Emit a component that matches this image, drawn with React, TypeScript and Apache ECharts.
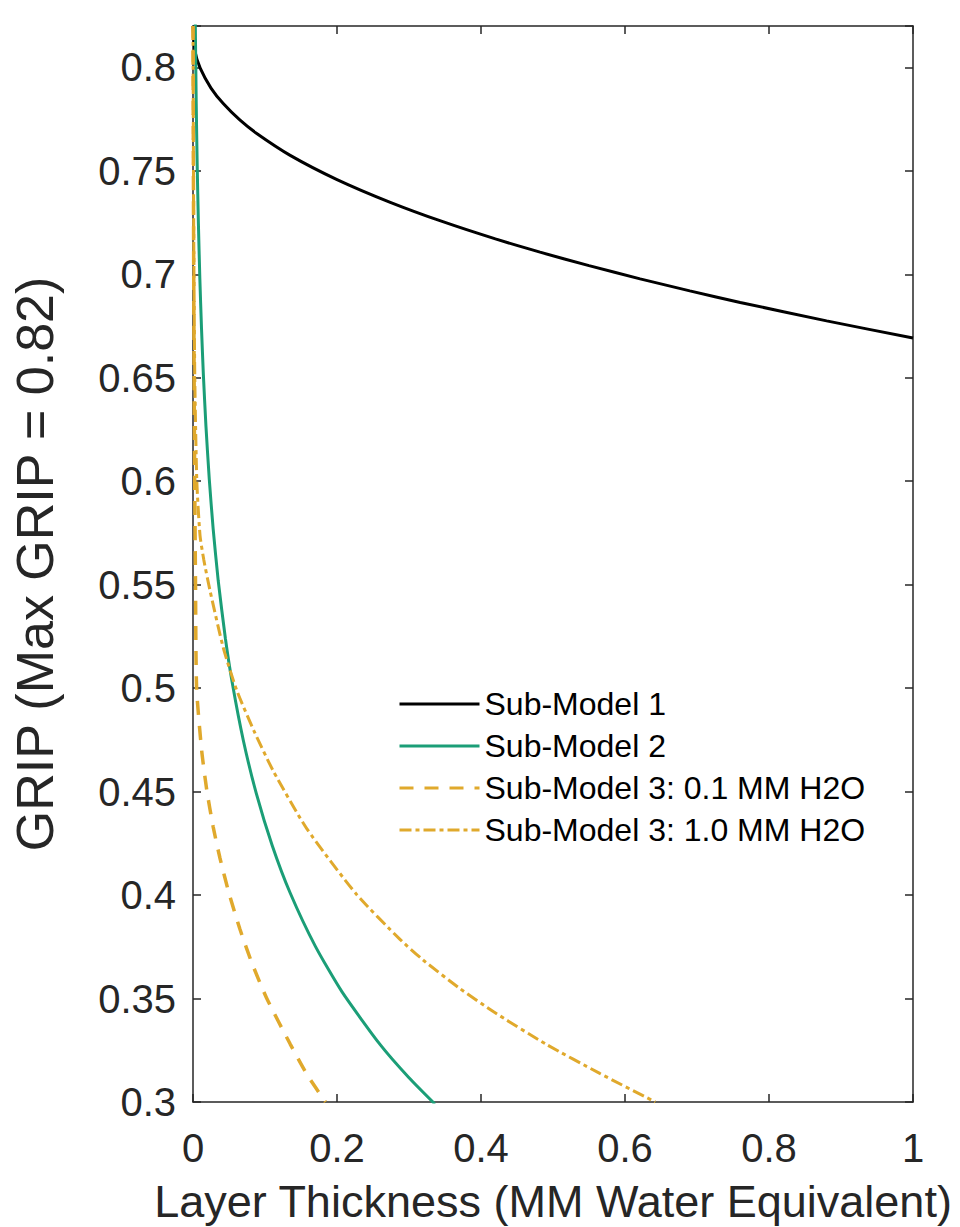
import React, { useEffect, useRef } from "react";
import * as echarts from "echarts";

// ---- data ----
const xTickLabels = ["0", "0.2", "0.4", "0.6", "0.8", "1"];
const yTickLabels = ["0.3", "0.35", "0.4", "0.45", "0.5", "0.55", "0.6", "0.65", "0.7", "0.75", "0.8"];

const seriesNames = [
  "Sub-Model 1",
  "Sub-Model 2",
  "Sub-Model 3: 0.1 MM H2O",
  "Sub-Model 3: 1.0 MM H2O",
];

const sub1X = [0, 0.003, 0.01, 0.025, 0.042, 0.065, 0.088, 0.135, 0.2, 0.274, 0.348, 0.42, 0.482, 0.55, 0.621, 0.69, 0.76, 0.88, 1.0];
const sub1Y = [0.82, 0.8074, 0.7996, 0.79, 0.7825, 0.7746, 0.7682, 0.7575, 0.7458, 0.7348, 0.7253, 0.7171, 0.7107, 0.7042, 0.6978, 0.692, 0.6864, 0.6775, 0.6692];

const sub2X = [0.0031, 0.0045, 0.0058, 0.0075, 0.0095, 0.0118, 0.0144, 0.018, 0.0226, 0.028, 0.035, 0.045, 0.055, 0.07, 0.088, 0.11, 0.135, 0.17, 0.207, 0.26, 0.3, 0.336];
const sub2Y = [0.824, 0.782, 0.7533, 0.7245, 0.698, 0.674, 0.6515, 0.6265, 0.601, 0.577, 0.552, 0.524, 0.5016, 0.4746, 0.449, 0.424, 0.401, 0.3752, 0.3532, 0.3277, 0.3117, 0.299];

const sub3aX = [0, 0.001, 0.002, 0.0035, 0.005, 0.012, 0.019, 0.028, 0.0375, 0.05, 0.065, 0.082, 0.102, 0.135, 0.158, 0.184];
const sub3aY = [0.82, 0.7, 0.62, 0.55, 0.5, 0.47, 0.451, 0.433, 0.4178, 0.4009, 0.3837, 0.367, 0.3504, 0.328, 0.3135, 0.3];

const sub3bX = [0, 0.001, 0.0025, 0.0053, 0.0097, 0.015, 0.0236, 0.042, 0.0607, 0.085, 0.1116, 0.158, 0.227, 0.2875, 0.32, 0.37, 0.417, 0.49, 0.565, 0.642];
const sub3bY = [0.82, 0.72, 0.65, 0.6, 0.574, 0.562, 0.5472, 0.5196, 0.499, 0.4791, 0.4599, 0.4321, 0.4004, 0.3786, 0.3685, 0.355, 0.3437, 0.328, 0.3138, 0.3];

const xName = "Layer Thickness (MM Water Equivalent)";
const yName = "GRIP (Max GRIP = 0.82)";

const zip = (xs: number[], ys: number[]) => xs.map((x, i) => [x, ys[i]]);

const FONT = "'Liberation Sans', Arial, Helvetica, sans-serif";
const AX = "#262626";
const GREEN = "#1b9e77";
const GOLD = "#e0a92c";

export default function App() {
  const ref = useRef<HTMLDivElement>(null);

  useEffect(() => {
    if (!ref.current) return;
    const chart = echarts.init(ref.current, undefined, { renderer: "svg" });

    const axisCommon = {
      axisLine: { show: true, onZero: false, lineStyle: { color: AX, width: 1.5 } },
      axisTick: { show: true, inside: true, length: 8, lineStyle: { color: AX, width: 1.5 } },
      splitLine: { show: false },
    };

    const option: any = {
      animation: false,
      backgroundColor: "#ffffff",
      grid: { left: 193, right: 47, top: 26, bottom: 125, containLabel: false, outerBoundsMode: "none" },
      legend: {
        orient: "vertical",
        left: 398,
        top: 688,
        padding: 0,
        itemWidth: 80,
        itemHeight: 2,
        itemGap: 10,
        data: seriesNames,
        itemStyle: { color: "transparent", borderColor: "transparent", borderWidth: 0, opacity: 0 },
        lineStyle: { width: 3 },
        textStyle: { fontSize: 32, lineHeight: 32, fontFamily: FONT, color: "#000" },
      },
      xAxis: [
        {
          type: "value",
          min: 0,
          max: 1,
          interval: 0.2,
          position: "bottom",
          ...axisCommon,
          axisLabel: {
            show: true,
            margin: 26,
            fontSize: 40,
            fontFamily: FONT,
            color: AX,
            formatter: (v: number) => {
              const i = Math.round(v / 0.2);
              return xTickLabels[i] ?? "";
            },
          },
          name: xName,
          nameLocation: "middle",
          nameGap: 77,
          nameTextStyle: { fontSize: 45, fontFamily: FONT, color: AX },
        },
        {
          type: "value",
          min: 0,
          max: 1,
          interval: 0.2,
          position: "top",
          ...axisCommon,
          axisLabel: { show: false },
        },
      ],
      yAxis: [
        {
          type: "value",
          min: 0.3,
          max: 0.82,
          interval: 0.05,
          position: "left",
          ...axisCommon,
          axisLabel: {
            show: true,
            margin: 17,
            fontSize: 40,
            fontFamily: FONT,
            color: AX,
            formatter: (v: number) => {
              const i = Math.round((v - 0.3) / 0.05);
              if (Math.abs(v - (0.3 + i * 0.05)) > 1e-6) return "";
              return yTickLabels[i] ?? "";
            },
          },
          name: yName,
          nameLocation: "middle",
          nameGap: 132,
          nameTextStyle: { fontSize: 52, fontFamily: FONT, color: AX },
        },
        {
          type: "value",
          min: 0.3,
          max: 0.82,
          interval: 0.05,
          position: "right",
          ...axisCommon,
          axisLabel: { show: false },
        },
      ],
      series: [
        {
          name: seriesNames[0],
          type: "line",
          data: zip(sub1X, sub1Y),
          symbol: "none",
          smooth: 0.2,
          lineStyle: { color: "#000000", width: 3 },
          itemStyle: { color: "#000000" },
        },
        {
          name: seriesNames[1],
          type: "line",
          data: zip(sub2X, sub2Y),
          symbol: "none",
          smooth: 0.2,
          lineStyle: { color: GREEN, width: 3 },
          itemStyle: { color: GREEN },
        },
        {
          name: seriesNames[2],
          type: "line",
          data: zip(sub3aX, sub3aY),
          symbol: "none",
          smooth: 0.2,
          lineStyle: { color: GOLD, width: 3.5, type: [14, 11] },
          itemStyle: { color: GOLD },
        },
        {
          name: seriesNames[3],
          type: "line",
          data: zip(sub3bX, sub3bY),
          symbol: "none",
          smooth: 0.2,
          lineStyle: { color: GOLD, width: 3, type: [12, 4, 4, 4] },
          itemStyle: { color: GOLD },
        },
      ],
    };

    chart.setOption(option);
    return () => chart.dispose();
  }, []);

  return (
    <div
      ref={ref}
      style={{ position: "fixed", left: 0, top: 0, width: 960, height: 1227, background: "#fff" }}
    />
  );
}
